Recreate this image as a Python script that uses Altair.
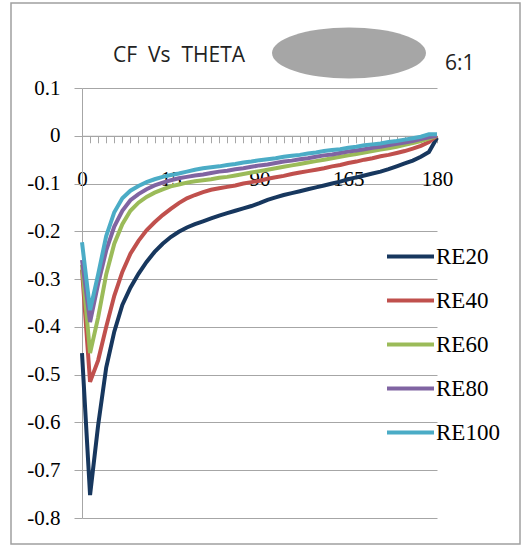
import altair as alt
import pandas as pd

# ---- data ----
theta_idx = list(range(45))            # category positions along the x axis
x_label_pos = [0, 11, 22, 33, 44]
x_label_text = ["0", "15", "90", "165", "180"]

re20 = [-0.455, -0.752, -0.606, -0.485, -0.410, -0.354, -0.318, -0.289, -0.264, -0.243,
        -0.226, -0.212, -0.201, -0.192, -0.185, -0.179, -0.173, -0.167, -0.162, -0.157,
        -0.152, -0.147, -0.141, -0.134, -0.129, -0.124, -0.120, -0.116, -0.112, -0.108,
        -0.104, -0.100, -0.096, -0.091, -0.087, -0.083, -0.079, -0.075, -0.070, -0.064,
        -0.058, -0.052, -0.044, -0.034, -0.004]
re40 = [-0.280, -0.515, -0.470, -0.400, -0.335, -0.285, -0.247, -0.220, -0.198, -0.181,
        -0.166, -0.153, -0.141, -0.131, -0.124, -0.118, -0.113, -0.110, -0.107, -0.104,
        -0.100, -0.097, -0.094, -0.090, -0.087, -0.084, -0.080, -0.077, -0.074, -0.071,
        -0.068, -0.064, -0.061, -0.057, -0.054, -0.050, -0.047, -0.043, -0.040, -0.036,
        -0.032, -0.027, -0.021, -0.013, 0.000]
re60 = [-0.270, -0.455, -0.380, -0.290, -0.226, -0.185, -0.157, -0.140, -0.128, -0.119,
        -0.112, -0.106, -0.102, -0.098, -0.095, -0.093, -0.091, -0.088, -0.086, -0.083,
        -0.080, -0.077, -0.074, -0.071, -0.068, -0.065, -0.062, -0.059, -0.056, -0.053,
        -0.050, -0.047, -0.044, -0.041, -0.038, -0.035, -0.032, -0.029, -0.026, -0.023,
        -0.019, -0.015, -0.011, -0.006, 0.000]
re80 = [-0.260, -0.390, -0.310, -0.240, -0.190, -0.157, -0.135, -0.122, -0.112, -0.104,
        -0.098, -0.093, -0.089, -0.086, -0.083, -0.081, -0.078, -0.075, -0.073, -0.070,
        -0.068, -0.065, -0.062, -0.060, -0.057, -0.054, -0.052, -0.049, -0.047, -0.044,
        -0.041, -0.039, -0.036, -0.033, -0.031, -0.028, -0.025, -0.023, -0.020, -0.017,
        -0.014, -0.011, -0.007, -0.003, 0.000]
re100 = [-0.223, -0.365, -0.290, -0.210, -0.160, -0.131, -0.115, -0.105, -0.097, -0.091,
         -0.086, -0.082, -0.079, -0.075, -0.071, -0.068, -0.066, -0.064, -0.061, -0.059,
         -0.056, -0.054, -0.051, -0.049, -0.047, -0.044, -0.042, -0.040, -0.037, -0.035,
         -0.032, -0.030, -0.028, -0.025, -0.023, -0.020, -0.018, -0.016, -0.013, -0.011,
         -0.008, -0.005, -0.002, 0.003, 0.003]

series_names = ["RE20", "RE40", "RE60", "RE80", "RE100"]
series_colors = ["#17375E", "#C0504D", "#9BBB59", "#8064A2", "#4BACC6"]
series_values = [re20, re40, re60, re80, re100]

y_ticks = [-0.8, -0.7, -0.6, -0.5, -0.4, -0.3, -0.2, -0.1, 0.0, 0.1]
y_min, y_max = -0.8, 0.1

chart_title = "CF\u00a0 Vs\u00a0 THETA"
ratio_text = "6:1"

rows = []
for name, vals in zip(series_names, series_values):
    for i, v in zip(theta_idx, vals):
        rows.append({"pos": i, "cf": v, "series": name})
df = pd.DataFrame(rows)

# ---- layout ----
W, H = 355, 430
PAD_L, PAD_T = 82, 88
zero_from_top = H * (y_max - 0) / (y_max - y_min)
x_axis_offset = -(H - zero_from_top)

grid_gray = "#A6A6A6"
serif = "'Liberation Serif', 'Times New Roman', Tinos, 'DejaVu Serif', serif"

label_expr = " : ".join(
    f"datum.value == {p} ? '{t}'" for p, t in zip(x_label_pos, x_label_text)
) + " : ''"

x_enc = alt.X(
    "pos:Q",
    scale=alt.Scale(domain=[theta_idx[0], theta_idx[-1]], nice=False, zero=False),
    axis=alt.Axis(
        title=None, values=theta_idx, labelExpr=label_expr, labelOverlap=False,
        labelFlush=False, grid=False, offset=x_axis_offset, domainColor=grid_gray,
        tickColor=grid_gray, tickSize=7, labelFont=serif, labelFontSize=21,
        labelColor="black", labelPadding=26,
    ),
)
y_enc = alt.Y(
    "cf:Q",
    scale=alt.Scale(domain=[y_min, y_max], nice=False, zero=False),
    axis=alt.Axis(
        title=None, values=y_ticks, grid=True, gridColor=grid_gray,
        domainColor=grid_gray, tickColor=grid_gray, tickSize=8, labelPadding=14,
        labelFont=serif, labelFontSize=21, labelColor="black",
        labelExpr="datum.value == 0 ? '0' : replace(format(datum.value, '.1f'), '\u2212', '-')",
    ),
)

lines = alt.Chart(df).mark_line(strokeWidth=4).encode(
    x=x_enc,
    y=y_enc,
    color=alt.Color(
        "series:N",
        scale=alt.Scale(domain=series_names, range=series_colors),
        legend=alt.Legend(
            title=None, orient="none", legendX=303, legendY=143,
            symbolType="stroke", symbolSize=2209, symbolStrokeWidth=4,
            labelFont=serif, labelFontSize=23, labelColor="black",
            labelOffset=0, rowPadding=6, padding=0,
        ),
    ),
    order=alt.Order("pos:Q"),
)

one = pd.DataFrame({"k": [0]})

border = alt.Chart(one).mark_rect(filled=False, stroke="#A0A0A0", strokeWidth=1.5).encode(
    x=alt.value(11 - PAD_L), x2=alt.value(520 - PAD_L),
    y=alt.value(3 - PAD_T), y2=alt.value(544 - PAD_T),
)

ellipse = alt.Chart(one).mark_point(
    shape="M -1 0 A 1 0.331 0 1 1 1 0 A 1 0.331 0 1 1 -1 0 Z",
    filled=True, fill="#A6A6A6", opacity=1, size=154 * 154,
).encode(x=alt.value(349 - PAD_L), y=alt.value(53 - PAD_T))

title_txt = alt.Chart(one).mark_text(
    text=chart_title, font="Open Sans", fontSize=21, align="left", baseline="middle",
    color="#222222",
).encode(x=alt.value(113 - PAD_L), y=alt.value(56 - PAD_T))

ratio_txt = alt.Chart(one).mark_text(
    text=ratio_text, font="Open Sans", fontSize=21, align="left", baseline="middle",
    color="#222222",
).encode(x=alt.value(445 - PAD_L), y=alt.value(64 - PAD_T))

chart = alt.layer(border, ellipse, title_txt, ratio_txt, lines).properties(
    width=W, height=H,
    autosize=alt.AutoSizeParams(type="none"),
    padding={"left": PAD_L, "top": PAD_T, "right": 532 - PAD_L - W, "bottom": 547 - PAD_T - H},
    background="white",
).configure_view(stroke=None)

chart.save("out.html", embed_options={"renderer": "svg", "actions": False})
